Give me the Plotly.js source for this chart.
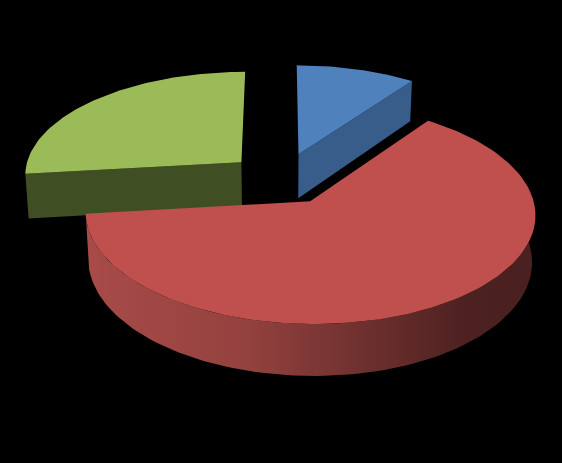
<!DOCTYPE html>
<html><head><meta charset="utf-8">
<script src="https://cdn.plot.ly/plotly-3.0.1.min.js"></script>
<style>html,body{margin:0;padding:0;background:#000}#c{width:562px;height:463px}</style></head>
<body><div id="c"></div>
<script>
const categories = ["Slice 1","Slice 2","Slice 3"];
const values = [10, 63.2, 26.8];
// presentation
const topColors = ["#4F81BD","#C0504D","#9BBB59"];
const wallColors = ["#395D8A","#8A3B39","#404E24"];
const pullX = [0.087, 0.135, -0.18];
const pullV = [-0.235, 0.22, -0.155];
const cx=280, cy=178, Sx=218, Sy=103.6, k=0.11, D=45, shrink=0.987;

const total = values.reduce((a,b)=>a+b,0);
function proj(X,V,low){
  const w=1-k*V;
  let x=Sx*X/w, y=Sy*V/w;
  if(low){ x*=shrink; y+=D/w; }
  return [cx+x, cy+y];
}
function rimPt(i,t,low){ return proj(pullX[i]+Math.sin(t), pullV[i]-Math.cos(t), low); }
function apex(i,low){ return proj(pullX[i], pullV[i], low); }
function arc(a,b){ const n=Math.max(8,Math.round(Math.abs(b-a)*40)), r=[]; for(let j=0;j<=n;j++) r.push(a+(b-a)*j/n); return r; }
const starts=[]; let acc=0;
values.forEach(v=>{starts.push(acc/total*2*Math.PI); acc+=v;});
const ends=values.map((v,i)=>starts[i]+v/total*2*Math.PI);

function poly(pts,color,name,extra){
  return Object.assign({type:"scatter",mode:"lines",x:pts.map(p=>p[0]),y:pts.map(p=>p[1]),
    fill:"toself",fillcolor:color,line:{width:0,color:color},name:name,hoverinfo:"name",showlegend:false},extra||{});
}
function topFace(i){ const p=[apex(i,false)]; arc(starts[i],ends[i]).forEach(t=>p.push(rimPt(i,t,false))); p.push(apex(i,false)); return poly(p,topColors[i],categories[i]); }
function cutFace(i,t){ const a=rimPt(i,t,false),b=rimPt(i,t,true); return poly([apex(i,false),a,b,apex(i,true),apex(i,false)],wallColors[i],categories[i]); }

// red outer wall: the front half of its rim, from right side round to the left cut
const rs=Math.PI*0.47, re=ends[1];
const up=arc(rs,re).map(t=>rimPt(1,t,false));
const lo=arc(rs,re).map(t=>rimPt(1,t,true)).reverse();
const redWall=poly(up.concat(lo).concat([up[0]]),wallColors[1],categories[1],{
  fillgradient:{type:"horizontal",colorscale:[[0,"#A84B49"],[0.35,"#94423F"],[0.62,"#6E302E"],[0.85,"#4C2120"],[1,"#4A2020"]]}
});

const data=[cutFace(0,ends[0]),topFace(0),cutFace(2,starts[2]),topFace(2),redWall,topFace(1)];
Plotly.newPlot("c",data,{
  width:562,height:463,margin:{l:0,r:0,t:0,b:0},paper_bgcolor:"#000",plot_bgcolor:"#000",showlegend:false,
  xaxis:{range:[0,562],visible:false,fixedrange:true},
  yaxis:{range:[463,0],visible:false,fixedrange:true}
},{displayModeBar:false,staticPlot:true});
</script></body></html>
